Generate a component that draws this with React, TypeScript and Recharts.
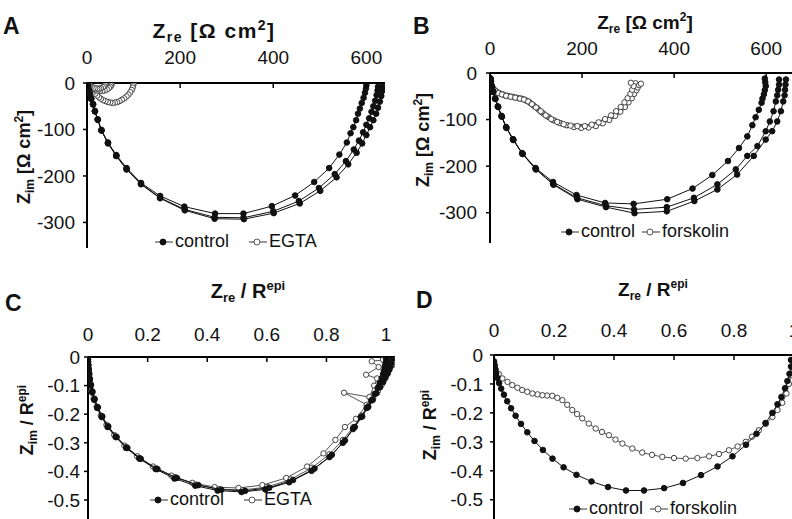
import { ScatterChart, Scatter, XAxis, YAxis, Legend } from 'recharts';

type Pt = [number, number];

const FONT = "'Liberation Sans', Arial, Helvetica, sans-serif";

// ---- panel A : raw impedance, control vs EGTA (Ohm cm2) ----
const aTicksX = [0, 200, 400, 600];
const aTicksY = [-300, -200, -100, 0];
const aControl1: Pt[] = [[600,-5],[599,-12],[597,-21],[594,-32],[590,-43],[586,-55],[582,-66],[578,-80],[572,-95],[566,-108],[558,-128],[542,-154],[520,-183],[488,-213],[447,-242],[397,-265],[336,-281],[275,-281],[209,-266],[157,-243],[116,-215],[85,-183],[63,-155],[45,-128],[31,-101],[23,-78],[17,-60],[13,-45],[9,-33],[6,-22],[4,-14],[2,-8],[1,-4]];
const aControl2: Pt[] = [[625,-8],[624,-16],[622,-26],[619,-38],[615,-50],[611,-62],[606,-76],[600,-90],[593,-106],[584,-124],[573,-143],[556,-168],[532,-196],[498,-226],[455,-254],[400,-276],[336,-290],[274,-289],[210,-272],[157,-247],[116,-217],[85,-185],[63,-157],[45,-129],[31,-102],[23,-79],[17,-61],[13,-46],[9,-34],[6,-23],[4,-15],[2,-8],[1,-4]];
const aControl3: Pt[] = [[635,-8],[634,-17],[632,-28],[629,-40],[625,-53],[621,-66],[615,-80],[608,-95],[600,-112],[591,-130],[579,-150],[561,-175],[536,-203],[501,-232],[457,-259],[401,-280],[337,-293],[274,-292],[210,-274],[157,-248],[116,-218],[85,-186],[63,-157],[45,-130],[31,-102],[23,-79],[17,-61],[13,-46],[9,-34],[6,-23],[4,-15],[2,-8],[1,-4]];
const aEgta1: Pt[] = [[100,-2],[99,-6],[98,-10],[96,-15],[93,-20],[89,-25],[85,-29],[80,-33],[75,-36],[70,-39],[65,-41],[60,-42],[55,-43],[50,-42],[45,-41],[40,-39],[35,-37],[30,-34],[26,-31],[22,-27],[18,-23],[14,-19],[11,-15],[8,-11],[6,-8],[4,-5],[2,-3]];
const aEgta2: Pt[] = [[53,-2],[52,-5],[50,-8],[47,-11],[43,-14],[38,-16],[33,-17],[28,-17],[23,-16],[18,-15],[14,-13],[10,-11],[7,-8],[5,-6],[3,-4],[1,-2]];
const aEgta3: Pt[] = [[40,-2],[39,-4],[37,-7],[34,-9],[30,-11],[26,-12],[22,-12],[18,-11],[14,-10],[10,-8],[7,-6],[4,-4],[2,-2]];

// ---- panel B : raw impedance, control vs forskolin ----
const bTicksX = [0, 200, 400, 600];
const bTicksY = [-300, -200, -100, 0];
const bControl1: Pt[] = [[597,-12],[598,-20],[599,-28],[597,-37],[595,-46],[592,-55],[590,-64],[584,-79],[577,-95],[570,-112],[559,-136],[541,-161],[517,-189],[483,-219],[440,-248],[385,-271],[312,-281],[250,-279],[188,-262],[137,-234],[99,-204],[70,-172],[50,-142],[35,-116],[25,-92],[17,-72],[11,-55],[7,-40],[4,-28],[2,-19],[1,-12]];
const bControl2: Pt[] = [[628,-14],[628,-25],[626,-36],[624,-48],[621,-61],[616,-82],[608,-104],[599,-125],[581,-157],[559,-178],[534,-207],[494,-239],[443,-268],[384,-288],[313,-293],[252,-285],[189,-268],[137,-238],[99,-206],[70,-173],[50,-143],[35,-117],[25,-93],[17,-72],[11,-55],[7,-40],[4,-28],[2,-19],[1,-12]];
const bControl3: Pt[] = [[643,-14],[642,-25],[641,-36],[640,-48],[637,-61],[632,-82],[624,-104],[613,-125],[599,-143],[573,-178],[537,-218],[494,-250],[444,-275],[384,-297],[314,-301],[252,-288],[190,-271],[138,-240],[100,-207],[71,-174],[51,-144],[36,-118],[26,-94],[18,-73],[12,-56],[7,-41],[4,-29],[2,-19],[1,-12]];
const bForsk1: Pt[] = [[0,-10],[1,-18],[3,-26],[6,-33],[10,-38],[16,-42],[24,-45],[32,-48],[42,-50],[52,-52],[62,-54],[72,-56],[80,-60],[88,-65],[96,-71],[106,-79],[116,-87],[128,-95],[140,-102],[154,-108],[168,-112],[183,-115],[198,-116],[213,-116],[228,-112],[242,-107],[256,-100],[268,-92],[279,-83],[288,-74],[296,-64],[302,-55],[307,-46],[311,-37],[314,-29],[316,-22]];
const bForsk2: Pt[] = [[0,-12],[2,-20],[4,-28],[8,-34],[13,-39],[20,-43],[28,-46],[38,-49],[48,-51],[58,-53],[68,-55],[77,-58],[85,-62],[93,-68],[102,-75],[112,-84],[124,-93],[137,-101],[151,-107],[166,-112],[182,-116],[198,-118],[214,-117],[230,-114],[245,-108],[259,-101],[272,-92],[283,-83],[293,-73],[301,-63],[308,-54],[313,-45],[318,-37],[321,-31],[324,-26],[328,-23]];
const bForsk3: Pt[] = [[0,-11],[1,-19],[3,-27],[7,-34],[12,-39],[18,-43],[26,-46],[35,-49],[45,-51],[55,-53],[65,-55],[74,-57],[83,-61],[91,-67],[100,-74],[110,-82],[121,-91],[133,-99],[146,-105],[160,-110],[175,-113],[190,-114],[206,-114],[221,-111],[236,-106],[250,-99],[263,-91],[274,-82],[284,-73],[292,-63],[299,-54],[305,-45],[309,-36],[312,-28],[306,-21]];

// ---- panel C : normalised, control vs EGTA ----
const cTicksX = [0, 0.2, 0.4, 0.6, 0.8, 1];
const cTicksY = [-0.5, -0.4, -0.3, -0.2, -0.1, 0];
const cControl1: Pt[] = [[1.0,-0.005],[1.0,-0.015],[0.998,-0.025],[0.996,-0.035],[0.993,-0.048],[0.99,-0.06],[0.985,-0.075],[0.979,-0.09],[0.972,-0.108],[0.962,-0.129],[0.95,-0.152],[0.935,-0.178],[0.915,-0.21],[0.889,-0.252],[0.855,-0.3],[0.81,-0.35],[0.75,-0.398],[0.675,-0.438],[0.595,-0.463],[0.515,-0.472],[0.435,-0.467],[0.36,-0.45],[0.29,-0.425],[0.227,-0.392],[0.172,-0.355],[0.128,-0.318],[0.093,-0.28],[0.066,-0.245],[0.046,-0.21],[0.031,-0.178],[0.021,-0.15],[0.014,-0.124],[0.009,-0.1],[0.006,-0.08],[0.004,-0.062],[0.002,-0.045],[0.001,-0.03],[0.0,-0.018],[0.0,-0.008]];
const cControl2: Pt[] = [[1.02,-0.008],[1.018,-0.02],[1.015,-0.032],[1.01,-0.045],[1.005,-0.058],[0.998,-0.072],[0.99,-0.088],[0.98,-0.106],[0.968,-0.127],[0.955,-0.15],[0.94,-0.175],[0.92,-0.208],[0.895,-0.245],[0.862,-0.292],[0.818,-0.342],[0.76,-0.39],[0.688,-0.43],[0.608,-0.457],[0.527,-0.468],[0.447,-0.464],[0.37,-0.448],[0.298,-0.423],[0.233,-0.392],[0.177,-0.356],[0.132,-0.318],[0.096,-0.28],[0.068,-0.243],[0.048,-0.208],[0.033,-0.176],[0.022,-0.147],[0.015,-0.121],[0.01,-0.097],[0.006,-0.076],[0.004,-0.058],[0.002,-0.042],[0.001,-0.028],[0.0,-0.016]];
const cEgta1: Pt[] = [[1.0,-0.004],[0.99,-0.01],[0.952,-0.015],[0.975,-0.035],[0.933,-0.062],[0.97,-0.075],[0.96,-0.1],[0.944,-0.14],[0.859,-0.125],[0.935,-0.167],[0.899,-0.216],[0.862,-0.245],[0.83,-0.29],[0.79,-0.337],[0.735,-0.383],[0.665,-0.423],[0.585,-0.448],[0.505,-0.458],[0.425,-0.455],[0.35,-0.44],[0.28,-0.415],[0.218,-0.383],[0.165,-0.347],[0.122,-0.31],[0.088,-0.273],[0.062,-0.238],[0.043,-0.205],[0.029,-0.174],[0.019,-0.146],[0.012,-0.12],[0.008,-0.097],[0.005,-0.077],[0.003,-0.058],[0.002,-0.042],[0.001,-0.028],[0.0,-0.015]];
const cEgta2: Pt[] = [[1.03,-0.006],[1.025,-0.018],[1.02,-0.03],[1.012,-0.044],[1.004,-0.06],[0.995,-0.078],[0.985,-0.098],[0.972,-0.12],[0.957,-0.145],[0.94,-0.172],[0.918,-0.205],[0.89,-0.245],[0.855,-0.29],[0.81,-0.34],[0.752,-0.387],[0.68,-0.428],[0.6,-0.455],[0.52,-0.465],[0.44,-0.462],[0.362,-0.446],[0.292,-0.42],[0.228,-0.389],[0.173,-0.353],[0.129,-0.315],[0.093,-0.277],[0.066,-0.24],[0.046,-0.206],[0.031,-0.174],[0.021,-0.145],[0.013,-0.119],[0.008,-0.095],[0.005,-0.074],[0.003,-0.055],[0.001,-0.038],[0.0,-0.022],[0.0,-0.01]];

// ---- panel D : normalised, control vs forskolin ----
const dTicksX = [0, 0.2, 0.4, 0.6, 0.8, 1];
const dTicksY = [-0.5, -0.4, -0.3, -0.2, -0.1, 0];
const dControl: Pt[] = [[0.99,-0.017],[0.99,-0.04],[0.985,-0.065],[0.978,-0.09],[0.97,-0.115],[0.958,-0.145],[0.945,-0.17],[0.928,-0.2],[0.905,-0.235],[0.875,-0.272],[0.84,-0.31],[0.795,-0.35],[0.745,-0.385],[0.69,-0.415],[0.63,-0.442],[0.567,-0.46],[0.5,-0.468],[0.44,-0.468],[0.38,-0.456],[0.325,-0.437],[0.275,-0.414],[0.232,-0.388],[0.195,-0.358],[0.163,-0.328],[0.135,-0.297],[0.111,-0.267],[0.09,-0.238],[0.072,-0.21],[0.057,-0.184],[0.044,-0.16],[0.033,-0.137],[0.024,-0.116],[0.017,-0.097],[0.011,-0.079],[0.007,-0.063],[0.004,-0.048],[0.002,-0.035],[0.0,-0.022]];
const dForsk: Pt[] = [[0.995,-0.04],[0.99,-0.07],[0.983,-0.1],[0.975,-0.133],[0.961,-0.165],[0.945,-0.19],[0.928,-0.214],[0.906,-0.238],[0.883,-0.26],[0.86,-0.282],[0.839,-0.3],[0.812,-0.316],[0.783,-0.329],[0.75,-0.342],[0.717,-0.35],[0.678,-0.356],[0.639,-0.358],[0.6,-0.356],[0.561,-0.352],[0.527,-0.345],[0.494,-0.337],[0.461,-0.323],[0.428,-0.306],[0.405,-0.292],[0.383,-0.277],[0.36,-0.266],[0.339,-0.254],[0.316,-0.237],[0.294,-0.219],[0.277,-0.204],[0.261,-0.19],[0.244,-0.172],[0.228,-0.156],[0.211,-0.148],[0.194,-0.141],[0.177,-0.14],[0.161,-0.139],[0.145,-0.136],[0.128,-0.133],[0.111,-0.127],[0.094,-0.121],[0.078,-0.113],[0.061,-0.104],[0.045,-0.093],[0.028,-0.081],[0.016,-0.066],[0.006,-0.052],[0.002,-0.038],[0.0,-0.025]];

const toXY = (pts: Pt[]) => pts.map(([x, y]) => ({ x, y }));

const marker = (filled: boolean) => (p: any) => (
  <circle
    cx={p.cx}
    cy={p.cy}
    r={filled ? 2.8 : 2.7}
    fill={filled ? '#111' : '#fff'}
    stroke={filled ? '#111' : '#444'}
    strokeWidth={1}
  />
);

const LegendIcon = ({ filled }: { filled: boolean }) => (
  <svg width={18} height={10} style={{ display: 'block' }}>
    <line x1={0} y1={5} x2={18} y2={5} stroke="#333" strokeWidth={1} />
    <circle cx={8} cy={5} r={3} fill={filled ? '#111' : '#fff'} stroke={filled ? '#111' : '#555'} />
  </svg>
);

const LegendBox = ({ second, gap }: { second: string; gap: number }) => (
  <div style={{ display: 'flex', alignItems: 'center', fontFamily: FONT, fontSize: 18, color: '#111', whiteSpace: 'nowrap' }}>
    <LegendIcon filled />
    <span style={{ marginLeft: 2, marginRight: gap }}>control</span>
    <LegendIcon filled={false} />
    <span style={{ marginLeft: 2 }}>{second}</span>
  </div>
);

const titleRe = (norm: boolean, sub: number) => (
  <>
    <tspan>Z</tspan>
    <tspan fontSize={sub} dy={4}>re</tspan>
    {norm ? (
      <>
        <tspan dy={-4}> / R</tspan>
        <tspan fontSize={sub} dy={-8}>epi</tspan>
      </>
    ) : (
      <>
        <tspan dy={-4}> [Ω cm</tspan>
        <tspan fontSize={sub} dy={-8}>2</tspan>
        <tspan dy={8}>]</tspan>
      </>
    )}
  </>
);

const titleIm = (norm: boolean) => (
  <>
    <tspan>Z</tspan>
    <tspan fontSize={12} dy={4}>im</tspan>
    {norm ? (
      <>
        <tspan dy={-4}> / R</tspan>
        <tspan fontSize={12} dy={-7}>epi</tspan>
      </>
    ) : (
      <>
        <tspan dy={-4}> [Ω cm</tspan>
        <tspan fontSize={12} dy={-7}>2</tspan>
        <tspan dy={7}>]</tspan>
      </>
    )}
  </>
);

interface Series {
  name: string;
  pts: Pt[];
  filled: boolean;
}

interface PanelProps {
  left: number;
  top: number;
  width: number;
  height: number;
  yAxisWidth: number;
  xAxisHeight: number;
  xDomain: [number, number];
  yDomain: [number, number];
  xTicks: number[];
  yTicks: number[];
  xTickGap: number;
  yTickGap: number;
  letter: string;
  letterPos: [number, number];
  xTitlePos: [number, number];
  xTitleSize: number;
  xTitleSpacing: number;
  yTitlePos: [number, number];
  norm: boolean;
  series: Series[];
  second: string;
  legendPos: [number, number];
  legendGap: number;
}

function Panel(p: PanelProps) {
  const axisY = p.xAxisHeight;
  const xTick = (t: any) => (
    <g>
      <line x1={t.x} y1={axisY} x2={t.x} y2={axisY + 5} stroke="#000" strokeWidth={1.5} />
      <text x={t.x} y={t.y} textAnchor="middle" fontSize={19} fill="#111" fontFamily={FONT}>
        {t.payload.value}
      </text>
    </g>
  );
  const xLabel = () => (
    <g fontFamily={FONT} fill="#111">
      <text x={p.letterPos[0]} y={p.letterPos[1]} fontSize={23} fontWeight="bold">
        {p.letter}
      </text>
      <text
        x={p.xTitlePos[0]}
        y={p.xTitlePos[1]}
        fontSize={p.xTitleSize}
        letterSpacing={p.xTitleSpacing}
        fontWeight="bold"
        textAnchor="middle"
      >
        {titleRe(p.norm, Math.round(p.xTitleSize * 0.65))}
      </text>
    </g>
  );
  const yLabel = () => (
    <text
      x={p.yTitlePos[0]}
      y={p.yTitlePos[1]}
      fontSize={18}
      fontWeight="bold"
      textAnchor="middle"
      fill="#111"
      fontFamily={FONT}
      transform={`rotate(-90 ${p.yTitlePos[0]} ${p.yTitlePos[1]})`}
    >
      {titleIm(p.norm)}
    </text>
  );

  return (
    <div style={{ position: 'absolute', left: p.left, top: p.top }}>
      <ScatterChart width={p.width} height={p.height} margin={{ top: 0, right: 5, bottom: 2, left: 0 }}>
        <XAxis
          type="number"
          dataKey="x"
          orientation="top"
          domain={p.xDomain}
          ticks={p.xTicks}
          allowDataOverflow
          height={p.xAxisHeight}
          axisLine={{ stroke: '#000', strokeWidth: 2 }}
          tickLine={false}
          tickSize={0}
          tickMargin={p.xTickGap}
          tick={xTick}
          interval={0}
          label={xLabel}
        />
        <YAxis
          type="number"
          dataKey="y"
          domain={p.yDomain}
          ticks={p.yTicks}
          allowDataOverflow
          width={p.yAxisWidth}
          axisLine={{ stroke: '#000', strokeWidth: 2 }}
          tickLine={{ stroke: '#000', strokeWidth: 1.5 }}
          tickSize={4}
          tickMargin={p.yTickGap}
          tick={{ fontSize: 19, fill: '#111', fontFamily: FONT }}
          interval={0}
          label={yLabel}
        />
        <Legend
          layout="horizontal"
          verticalAlign="middle"
          align="center"
          wrapperStyle={{ left: p.legendPos[0], top: p.legendPos[1], width: 'auto', height: 20 }}
          content={() => <LegendBox second={p.second} gap={p.legendGap} />}
        />
        {p.series.map((s) => (
          <Scatter
            key={s.name}
            name={s.name}
            data={toXY(s.pts)}
            line={{ stroke: s.filled ? '#111' : '#555', strokeWidth: 1 }}
            shape={marker(s.filled)}
            isAnimationActive={false}
          />
        ))}
      </ScatterChart>
    </div>
  );
}

export default function App() {
  return (
    <div
      style={{
        position: 'fixed',
        left: 0,
        top: 0,
        width: 792,
        height: 519,
        overflow: 'hidden',
        background: '#fff',
      }}
    >
      <Panel
        left={0}
        top={0}
        width={390}
        height={250}
        yAxisWidth={87}
        xAxisHeight={83}
        xDomain={[0, 640]}
        yDomain={[-355, 0]}
        xTicks={aTicksX}
        yTicks={aTicksY}
        xTickGap={19}
        yTickGap={8}
        letter="A"
        letterPos={[3, 34]}
        xTitlePos={[214, 38]}
        xTitleSize={21}
        xTitleSpacing={1.5}
        yTitlePos={[30, 157]}
        norm={false}
        series={[
          { name: 'EGTA 1', pts: aEgta1, filled: false },
          { name: 'EGTA 2', pts: aEgta2, filled: false },
          { name: 'EGTA 3', pts: aEgta3, filled: false },
          { name: 'control 1', pts: aControl1, filled: true },
          { name: 'control 2', pts: aControl2, filled: true },
          { name: 'control 3', pts: aControl3, filled: true },
        ]}
        second="EGTA"
        legendPos={[155, 231]}
        legendGap={20}
      />
      <Panel
        left={400}
        top={0}
        width={408}
        height={245}
        yAxisWidth={90}
        xAxisHeight={73}
        xDomain={[0, 680]}
        yDomain={[-365, 0]}
        xTicks={bTicksX}
        yTicks={bTicksY}
        xTickGap={18}
        yTickGap={9}
        letter="B"
        letterPos={[13, 34]}
        xTitlePos={[245, 29]}
        xTitleSize={19}
        xTitleSpacing={0}
        yTitlePos={[29, 140]}
        norm={false}
        series={[
          { name: 'forskolin 1', pts: bForsk1, filled: false },
          { name: 'forskolin 2', pts: bForsk2, filled: false },
          { name: 'forskolin 3', pts: bForsk3, filled: false },
          { name: 'control 1', pts: bControl1, filled: true },
          { name: 'control 2', pts: bControl2, filled: true },
          { name: 'control 3', pts: bControl3, filled: true },
        ]}
        second="forskolin"
        legendPos={[161, 221]}
        legendGap={7}
      />
      <Panel
        left={0}
        top={260}
        width={400}
        height={262}
        yAxisWidth={88}
        xAxisHeight={97}
        xDomain={[0, 1.03]}
        yDomain={[-0.57, 0]}
        xTicks={cTicksX}
        yTicks={cTicksY}
        xTickGap={16}
        yTickGap={4}
        letter="C"
        letterPos={[5, 51]}
        xTitlePos={[248, 38]}
        xTitleSize={20}
        xTitleSpacing={0}
        yTitlePos={[33, 160]}
        norm
        series={[
          { name: 'EGTA 1', pts: cEgta1, filled: false },
          { name: 'EGTA 2', pts: cEgta2, filled: false },
          { name: 'control 1', pts: cControl1, filled: true },
          { name: 'control 2', pts: cControl2, filled: true },
        ]}
        second="EGTA"
        legendPos={[150, 229]}
        legendGap={20}
      />
      <Panel
        left={400}
        top={260}
        width={414}
        height={262}
        yAxisWidth={94}
        xAxisHeight={95}
        xDomain={[0, 1.05]}
        yDomain={[-0.57, 0]}
        xTicks={dTicksX}
        yTicks={dTicksY}
        xTickGap={18}
        yTickGap={7}
        letter="D"
        letterPos={[16, 48]}
        xTitlePos={[253, 36]}
        xTitleSize={19}
        xTitleSpacing={0}
        yTitlePos={[36, 165]}
        norm
        series={[
          { name: 'forskolin', pts: dForsk, filled: false },
          { name: 'control', pts: dControl, filled: true },
        ]}
        second="forskolin"
        legendPos={[169, 238]}
        legendGap={7}
      />
    </div>
  );
}
